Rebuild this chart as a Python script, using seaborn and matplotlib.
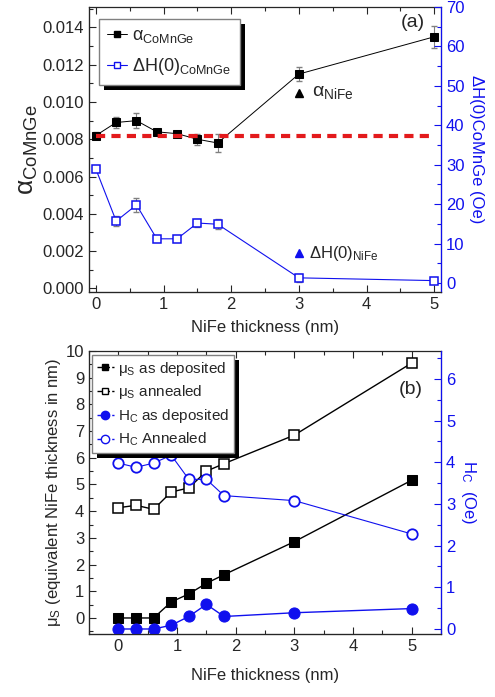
import numpy as np
import seaborn as sns
import matplotlib.pyplot as plt
from matplotlib.ticker import MultipleLocator
from matplotlib.lines import Line2D
from matplotlib.patches import Rectangle
from matplotlib.transforms import IdentityTransform

# data
thick = [0, 0.3, 0.6, 0.9, 1.2, 1.5, 1.8, 3, 5]

alpha_cmg = [0.0082, 0.0089, 0.0090, 0.0084, 0.0083, 0.0080, 0.0078, 0.0115, 0.0135]
alpha_err = [0.0002, 0.0003, 0.0004, 0.0001, 0.0001, 0.0003, 0.0005, 0.0004, 0.0006]
dH_cmg = [28.9, 15.7, 19.8, 11.2, 11.2, 15.2, 14.9, 1.3, 0.6]
dH_err = [0.5, 1.2, 1.8, 0.3, 0.3, 1.0, 1.2, 1.0, 0.5]
alpha_nife = 0.0105
dH_nife = 7.6
alpha_ref = 0.0082

mus_dep = [0, 0, 0, 0.6, 0.9, 1.3, 1.62, 2.86, 5.16]
mus_ann = [4.13, 4.22, 4.07, 4.72, 4.87, 5.5, 5.78, 6.85, 9.55]
hc_dep = [0, 0, 0, 0.09, 0.3, 0.59, 0.3, 0.39, 0.49]
hc_ann = [3.98, 3.88, 3.98, 4.17, 3.59, 3.59, 3.2, 3.08, 2.28]

sns.set_style("ticks")
plt.rcParams['font.family'] = ['Liberation Sans', 'DejaVu Sans']
plt.rcParams['mathtext.fontset'] = 'custom'
plt.rcParams['mathtext.rm'] = 'Liberation Sans'
plt.rcParams['mathtext.it'] = 'Liberation Sans:italic'
plt.rcParams['xtick.direction'] = 'in'
plt.rcParams['ytick.direction'] = 'in'

blue = '#1010ee'
fig = plt.figure(figsize=(4.95, 6.97), dpi=100)

# ---------------- panel (a) ----------------
ax1 = fig.add_axes([0.180, 0.581, 0.711, 0.409])
ax2 = ax1.twinx()

ax1.errorbar(thick, alpha_cmg, yerr=alpha_err, fmt='none', ecolor='gray', elinewidth=0.8, capsize=2)
sns.lineplot(x=thick, y=alpha_cmg, ax=ax1, color='k', lw=0.7, marker='s', markersize=6,
             markeredgecolor='k', markerfacecolor='k')
ax1.plot([0, 5], [alpha_ref, alpha_ref], color='#e31a1c', lw=3, ls=(0, (2.2, 1.5)))
ax1.plot([3], [alpha_nife], marker='^', color='k', markersize=6, ls='none')
ax1.text(3.2, alpha_nife, r'α$_{\mathrm{NiFe}}$', fontsize=14, va='center')
ax1.text(4.5, 0.01425, '(a)', fontsize=14, va='center')

ax2.errorbar(thick, dH_cmg, yerr=dH_err, fmt='none', ecolor='gray', elinewidth=0.8, capsize=2)
sns.lineplot(x=thick, y=dH_cmg, ax=ax2, color=blue, lw=0.8, marker='s', markersize=6,
             markeredgecolor=blue, markerfacecolor='white', markeredgewidth=1.1)
ax2.plot([3], [dH_nife], marker='^', color=blue, markersize=6, ls='none')
ax2.text(3.15, dH_nife, r'ΔH(0)$_{\mathrm{NiFe}}$', fontsize=12, va='center')

ax1.set_xlim(-0.1, 5.1)
ax1.set_ylim(-0.0002, 0.0151)
ax2.set_ylim(-2.3, 70)
ax1.xaxis.set_major_locator(MultipleLocator(1))
ax1.xaxis.set_minor_locator(MultipleLocator(0.5))
ax1.yaxis.set_major_locator(MultipleLocator(0.002))
ax1.yaxis.set_minor_locator(MultipleLocator(0.001))
ax1.yaxis.set_major_formatter(plt.FormatStrFormatter('%.3f'))
ax2.yaxis.set_major_locator(MultipleLocator(10))
ax2.yaxis.set_minor_locator(MultipleLocator(5))
ax1.set_xlabel('NiFe thickness (nm)', fontsize=12, labelpad=6)
ax1.set_ylabel(r'α$_{\mathrm{CoMnGe}}$', fontsize=19, labelpad=2)
ax2.set_ylabel('ΔH(0)CoMnGe (Oe)', fontsize=12, color=blue, rotation=270, labelpad=14)

h1 = [Line2D([], [], color='k', lw=0.7, marker='s', markersize=5, markerfacecolor='k'),
      Line2D([], [], color=blue, lw=0.8, marker='s', markersize=5, markerfacecolor='white',
             markeredgecolor=blue)]
leg1 = ax2.legend(h1, [r'α$_{\mathrm{CoMnGe}}$', r'ΔH(0)$_{\mathrm{CoMnGe}}$'],
                  loc='upper left', bbox_to_anchor=(0.028, 0.958), borderaxespad=0,
                  fontsize=13, handlelength=1.1, handletextpad=0.3, borderpad=0.45,
                  labelspacing=0.6, fancybox=False, edgecolor='gray', framealpha=1)

# ---------------- panel (b) ----------------
ax3 = fig.add_axes([0.180, 0.0904, 0.711, 0.406])
ax4 = ax3.twinx()

sns.lineplot(x=thick, y=mus_dep, ax=ax3, color='k', lw=1.0, marker='s', markersize=7,
             markeredgecolor='k', markerfacecolor='k')
sns.lineplot(x=thick, y=mus_ann, ax=ax3, color='k', lw=1.0, marker='s', markersize=7,
             markeredgecolor='k', markerfacecolor='white', markeredgewidth=1.1)
sns.lineplot(x=thick, y=hc_dep, ax=ax4, color=blue, lw=1.0, marker='o', markersize=8,
             markeredgecolor=blue, markerfacecolor=blue)
sns.lineplot(x=thick, y=hc_ann, ax=ax4, color=blue, lw=0.8, marker='o', markersize=7.5,
             markeredgecolor=blue, markerfacecolor='white', markeredgewidth=1.3)
ax3.text(4.78, 8.57, '(b)', fontsize=14, va='center')

ax3.set_xlim(-0.5, 5.5)
ax3.set_ylim(-0.6, 10)
ax4.set_ylim(-0.12, 6.67)
ax3.xaxis.set_major_locator(MultipleLocator(1))
ax3.xaxis.set_minor_locator(MultipleLocator(0.5))
ax3.yaxis.set_major_locator(MultipleLocator(1))
ax3.yaxis.set_minor_locator(MultipleLocator(0.5))
ax4.yaxis.set_major_locator(MultipleLocator(1))
ax4.yaxis.set_minor_locator(MultipleLocator(0.5))
ax3.set_xlabel('NiFe thickness (nm)', fontsize=12, labelpad=10)
ax3.set_ylabel(r'μ$_{\mathrm{S}}$ (equivalent NiFe thickness in nm)', fontsize=12, labelpad=2)
ax4.set_ylabel(r'H$_{\mathrm{C}}$  (Oe)', fontsize=12, color=blue, rotation=270, labelpad=16)

h2 = [Line2D([], [], color='k', lw=1.0, ls='--', marker='s', markersize=5, markerfacecolor='k'),
      Line2D([], [], color='k', lw=1.0, ls='--', marker='s', markersize=5, markerfacecolor='white'),
      Line2D([], [], color=blue, lw=1.0, ls='--', marker='o', markersize=6, markerfacecolor=blue,
             markeredgecolor=blue),
      Line2D([], [], color=blue, lw=1.0, ls='--', marker='o', markersize=6, markerfacecolor='white',
             markeredgecolor=blue)]
leg2 = ax4.legend(h2, [r'μ$_{\mathrm{S}}$ as deposited', r'μ$_{\mathrm{S}}$ annealed',
                       r'H$_{\mathrm{C}}$ as deposited', r'H$_{\mathrm{C}}$ Annealed'],
                  loc='upper left', bbox_to_anchor=(0.009, 0.986), borderaxespad=0,
                  fontsize=11, handlelength=1.1, handletextpad=0.3, borderpad=0.3,
                  labelspacing=0.38, fancybox=False, edgecolor='gray', framealpha=1)

for a in (ax1, ax3):
    a.tick_params(axis='both', which='both', top=True, labelsize=12, width=0.8)
    a.tick_params(which='major', length=5)
    a.tick_params(which='minor', length=3)
    for s in ('left', 'top', 'bottom'):
        a.spines[s].set_linewidth(0.9)
for a in (ax2, ax4):
    a.tick_params(axis='y', which='both', colors=blue, labelsize=12, width=0.8)
    a.tick_params(which='major', length=5)
    a.tick_params(which='minor', length=3)
    a.spines['right'].set_color(blue)
    a.spines['right'].set_linewidth(0.9)
    a.spines['top'].set_visible(False)

# black drop shadow behind each legend box
fig.canvas.draw()
for ax, leg in ((ax2, leg1), (ax4, leg2)):
    bb = leg.get_frame().get_window_extent()
    sh = Rectangle((bb.x0 + 5, bb.y0 - 5), bb.width, bb.height, transform=IdentityTransform(),
                   facecolor='k', edgecolor='none', zorder=4.9, clip_on=False)
    ax.add_artist(sh)

fig.savefig('out.png', dpi=100)
